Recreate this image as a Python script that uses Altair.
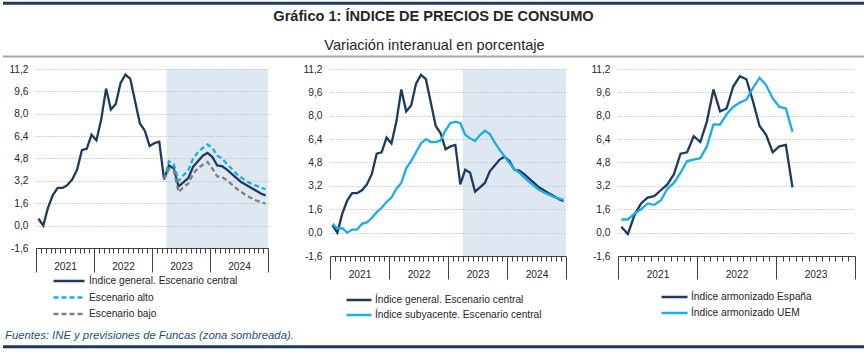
import json
import altair as alt
import pandas as pd

# ---------------- texts ----------------
TITLE = "Gráfico 1: ÍNDICE DE PRECIOS DE CONSUMO"
SUBTITLE = "Variación interanual en porcentaje"
SOURCE = "Fuentes: INE y previsiones de Funcas (zona sombreada)."

# ---------------- axes ----------------
YEARS_4 = ["2021", "2022", "2023", "2024"]
YEARS_3 = ["2021", "2022", "2023"]
Y_TICKS = [-1.6, 0.0, 1.6, 3.2, 4.8, 6.4, 8.0, 9.6, 11.2]

# ---------------- data (year-on-year %, monthly from Jan 2021) ----------------
# Observed CPI Spain, Jan 2021 - Mar 2023
IPC_GENERAL_OBS = [0.5, 0.0, 1.3, 2.2, 2.7, 2.7, 2.9, 3.3, 4.0, 5.4, 5.5, 6.5,
                   6.1, 7.6, 9.8, 8.3, 8.7, 10.2, 10.8, 10.5, 8.9, 7.3, 6.8, 5.7,
                   5.9, 6.0, 3.3]
# Forecasts Apr 2023 - Dec 2024
IPC_CENTRAL_PREV = [4.3, 4.1, 2.8, 3.1, 3.4, 4.2, 4.6, 5.0, 5.2,
                    4.9, 4.3, 4.25, 4.0, 3.7, 3.4, 3.1, 2.9, 2.7, 2.5, 2.3, 2.15]
IPC_ALTO_PREV = [4.6, 4.4, 3.2, 3.6, 3.95, 4.8, 5.25, 5.55, 5.8,
                 5.55, 5.0, 4.8, 4.4, 4.07, 3.7, 3.43, 3.2, 3.0, 2.86, 2.72, 2.6]
IPC_BAJO_PREV = [4.05, 3.95, 2.4, 2.75, 3.0, 3.7, 4.1, 4.35, 4.55,
                 4.07, 3.52, 3.47, 3.24, 2.95, 2.64, 2.4, 2.17, 1.98, 1.81, 1.67, 1.58]
# Core CPI Spain
SUBYACENTE_OBS = [0.6, 0.3, 0.3, 0.0, 0.2, 0.2, 0.6, 0.7, 1.0, 1.4, 1.7, 2.1,
                  2.4, 3.0, 3.4, 4.4, 4.9, 5.5, 6.1, 6.4, 6.2, 6.2, 6.3, 7.0,
                  7.5, 7.6, 7.5]
SUBYACENTE_PREV = [6.7, 6.45, 6.27, 6.68, 6.97, 6.75, 6.18, 5.67, 5.22,
                   4.76, 4.35, 4.1, 3.78, 3.47, 3.2, 2.93, 2.75, 2.6, 2.45, 2.35, 2.24]
# HICP, Jan 2021 - Mar 2023
IPCA_ESPANA = [0.4, -0.1, 1.2, 2.0, 2.4, 2.5, 2.9, 3.3, 4.0, 5.4, 5.5, 6.6,
               6.2, 7.6, 9.8, 8.3, 8.5, 10.0, 10.7, 10.5, 9.0, 7.3, 6.7, 5.5,
               5.9, 6.0, 3.1]
IPCA_UEM = [0.9, 0.9, 1.3, 1.6, 2.0, 1.9, 2.2, 3.0, 3.4, 4.1, 4.9, 5.0,
            5.1, 5.9, 7.4, 7.4, 8.1, 8.6, 8.9, 9.1, 9.9, 10.6, 10.1, 9.2,
            8.6, 8.5, 6.9]

SHADE_FROM = "2023-04"
SHADE_TO = "2024-12"

S_CENTRAL = "Índice general. Escenario central"
S_ALTO = "Escenario alto"
S_BAJO = "Escenario bajo"
S_SUBY = "Índice subyacente. Escenario central"
S_ESP = "Índice armonizado España"
S_UEM = "Índice armonizado UEM"

# ---------------- style ----------------
FONT = "Liberation Sans"
NAVY = "#1F3A60"
CYAN = "#19AEEA"
GRAY = "#808080"
TXT = "#262626"
LAB = 10.2

MONTHS = [f"{y}-{m:02d}" for y in (2021, 2022, 2023, 2024) for m in range(1, 13)]


def series_rows(name, values, start=0):
    return [{"x": start + i + 0.5, "v": v, "serie": name} for i, v in enumerate(values)]


general_full = IPC_GENERAL_OBS + IPC_CENTRAL_PREV
last_obs = len(IPC_GENERAL_OBS) - 1

df1 = pd.DataFrame(
    series_rows(S_CENTRAL, general_full)
    + series_rows(S_ALTO, [IPC_GENERAL_OBS[-1]] + IPC_ALTO_PREV, last_obs)
    + series_rows(S_BAJO, [IPC_GENERAL_OBS[-1]] + IPC_BAJO_PREV, last_obs)
)
df2 = pd.DataFrame(
    series_rows(S_CENTRAL, general_full)
    + series_rows(S_SUBY, SUBYACENTE_OBS + SUBYACENTE_PREV)
)
df3 = pd.DataFrame(series_rows(S_ESP, IPCA_ESPANA) + series_rows(S_UEM, IPCA_UEM))
shade_df = pd.DataFrame({"x0": [MONTHS.index(SHADE_FROM)], "x1": [MONTHS.index(SHADE_TO) + 1]})

Y_LABEL_EXPR = "replace(replace(format(datum.value, '.1f'), '.', ','), '\u2212', '-')"


def make_panel(df, names, colors, dashes, n_months, years, width, height,
               leg, year_tick, shade=True):
    xscale = alt.Scale(domain=[0, n_months], nice=False, zero=False)
    year_expr = (f"datum.value % 12 === 6 ? {json.dumps(years)}[floor(datum.value / 12)] : ''")
    xaxis = alt.Axis(
        values=list(range(n_months + 1)),
        tickSize={"condition": {"test": "datum.value % 12 === 0", "value": year_tick}, "value": 5},
        labelExpr=year_expr, labelOverlap=False, labelFlush=False,
        labelBaseline="middle", labelPadding=13.5,
        labelFont=FONT, labelFontSize=LAB, labelColor=TXT,
        domainColor="#404040", tickColor="#404040", domainWidth=1, tickWidth=1,
        grid=False, title=None,
    )
    yaxis = alt.Axis(
        values=Y_TICKS, labelExpr=Y_LABEL_EXPR, grid=True, gridDash=[1, 2],
        gridColor="#A6A6A6", gridWidth=1, domain=False, ticks=False,
        labelPadding=8, labelFont=FONT, labelFontSize=LAB, labelColor=TXT, title=None,
    )
    yscale = alt.Scale(domain=[-1.6, 11.2], nice=False, zero=False)
    legend = alt.Legend(
        orient="none", legendX=leg["x"], legendY=leg["y"], direction="vertical",
        title=None, symbolType="stroke", symbolSize=leg["size"], symbolStrokeWidth=2.4,
        clipHeight=12, rowPadding=leg["row"], labelFont=FONT, labelFontSize=LAB,
        labelColor=TXT, labelOffset=leg["off"], labelLimit=400, padding=0,
    )
    enc = dict(
        x=alt.X("x:Q", scale=xscale, axis=xaxis),
        y=alt.Y("v:Q", scale=yscale, axis=yaxis),
        color=alt.Color("serie:N", scale=alt.Scale(domain=names, range=colors), legend=legend),
    )
    if dashes is not None:
        enc["strokeDash"] = alt.StrokeDash("serie:N", scale=alt.Scale(domain=names, range=dashes),
                                           legend=legend)
    lines = alt.Chart(df).mark_line(strokeWidth=2.3).encode(**enc)
    layers = []
    if shade:
        layers.append(
            alt.Chart(shade_df).mark_rect(fill="#B8CCE0", opacity=0.45).encode(
                x=alt.X("x0:Q", scale=xscale, axis=xaxis), x2="x1:Q",
                y=alt.value(0), y2=alt.value(height))
        )
    layers.append(lines)
    return alt.layer(*layers).properties(width=width, height=height)


p1 = make_panel(df1, [S_CENTRAL, S_ALTO, S_BAJO], [NAVY, CYAN, GRAY],
                [[1, 0], [5, 3], [5, 3]], 48, YEARS_4, 232, 179,
                {"x": 16, "y": 206, "size": 961, "row": 4.5, "off": 3}, 24)
p2 = make_panel(df2, [S_CENTRAL, S_SUBY], [NAVY, CYAN], None, 48, YEARS_4, 236, 187,
                {"x": 15, "y": 225, "size": 625, "row": 3, "off": 2}, 23)
p3 = make_panel(df3, [S_ESP, S_UEM], [NAVY, CYAN], None, 36, YEARS_3, 237, 187,
                {"x": 42, "y": 222, "size": 676, "row": 4, "off": 2}, 23, shade=False)

inner = alt.hconcat(p2, p3, spacing=52, bounds="flush").resolve_scale(
    color="independent", strokeDash="independent")
body = alt.hconcat(p1, inner, spacing=62, bounds="flush").resolve_scale(
    color="independent", strokeDash="independent")

# ---------------- frame: header, footer and rules (header origin = canvas x 36, y 0) ----------------
hdr = alt.Chart(pd.DataFrame({"title": [TITLE], "subtitle": [SUBTITLE], "src": [SOURCE]}))
header = alt.layer(
    hdr.mark_rect(fill="white").encode(x=alt.value(-36), x2=alt.value(831),
                                        y=alt.value(0), y2=alt.value(352)),
    hdr.mark_rule(color=NAVY, strokeWidth=3).encode(x=alt.value(-33), x2=alt.value(828),
                                                   y=alt.value(3.2)),
    hdr.mark_text(font=FONT, fontSize=14.6, fontWeight="bold", color=TXT, align="center",
                  baseline="middle").encode(text="title:N", x=alt.value(397.5), y=alt.value(17)),
    hdr.mark_text(font=FONT, fontSize=14.6, color=TXT, align="center",
                  baseline="middle").encode(text="subtitle:N", x=alt.value(398.5), y=alt.value(46)),
    hdr.mark_rule(color="#A6A6A6", strokeWidth=2).encode(x=alt.value(-33), x2=alt.value(828),
                                                        y=alt.value(56.5)),
    hdr.mark_text(font=FONT, fontSize=11.3, fontStyle="italic", color="#1F4E79", align="left",
                  baseline="middle").encode(text="src:N", x=alt.value(-31), y=alt.value(336)),
    hdr.mark_rule(color=NAVY, strokeWidth=3).encode(x=alt.value(-33), x2=alt.value(828),
                                                   y=alt.value(346.7)),
).properties(width=795, height=69)

chart = alt.vconcat(header, body, spacing=0, bounds="flush").properties(
    padding=0, background="white"
).configure_view(strokeWidth=0)

chart.save("out.html", embed_options={"renderer": "svg", "actions": False})
